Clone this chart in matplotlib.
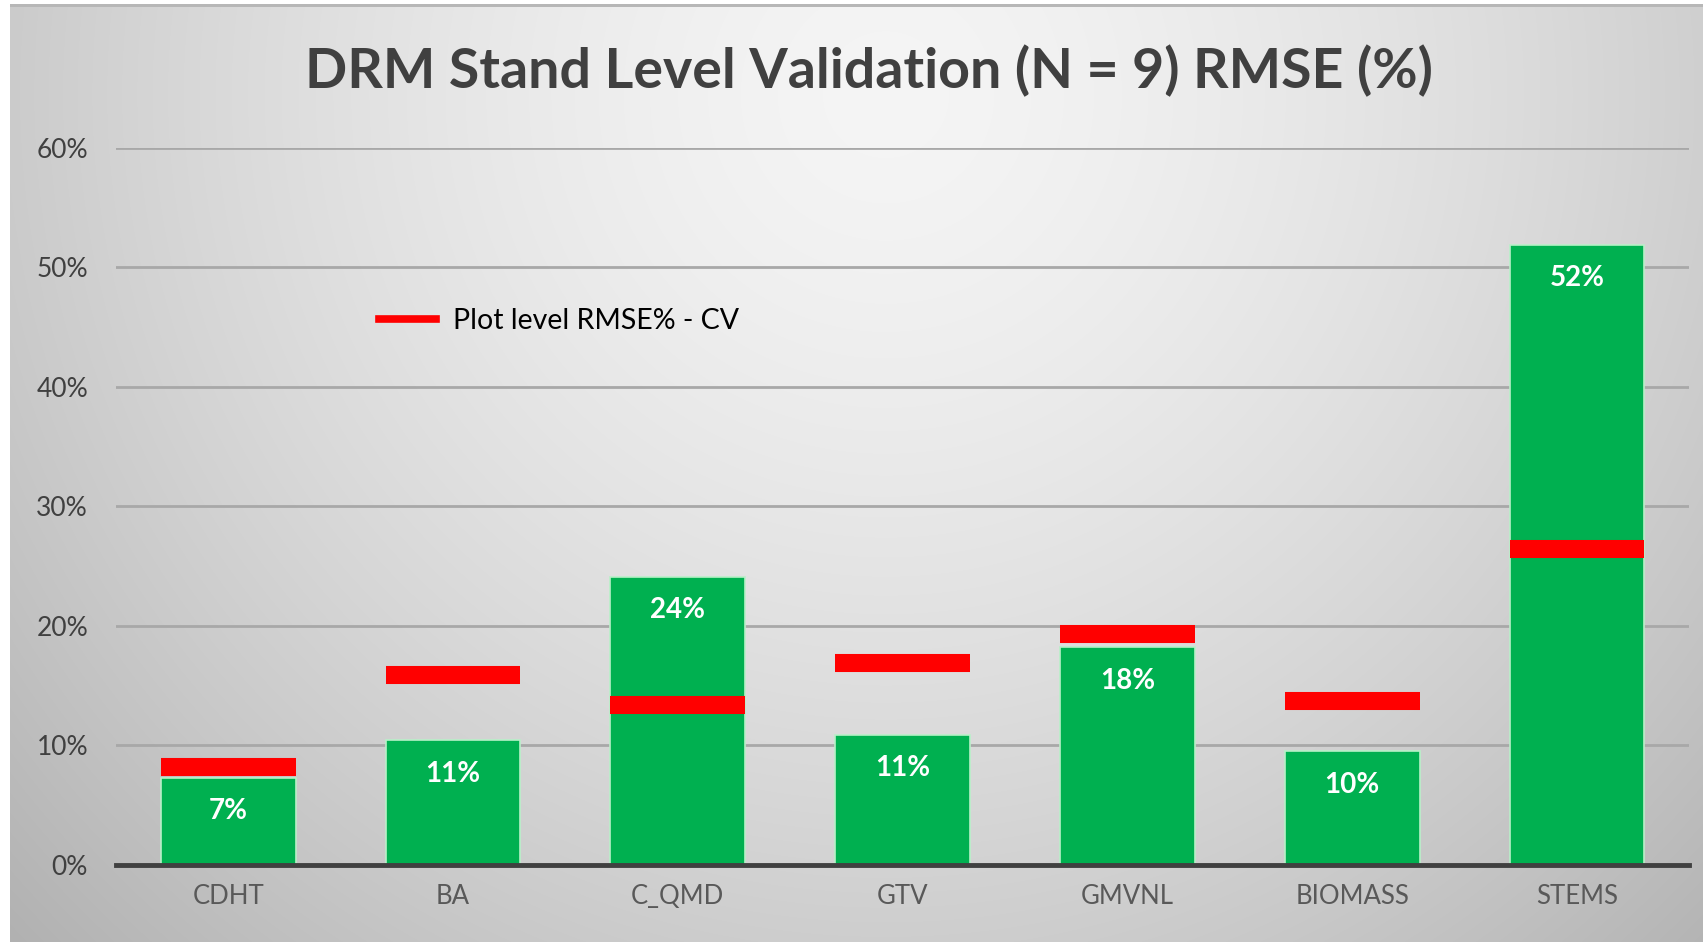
import numpy as np
import matplotlib
matplotlib.use("Agg")
import matplotlib.pyplot as plt
from matplotlib.lines import Line2D
from matplotlib.ticker import FuncFormatter

categories = ["CDHT", "BA", "C_QMD", "GTV", "GMVNL", "BIOMASS", "STEMS"]
stand_rmse = [7.3, 10.4, 24.1, 10.9, 18.2, 9.5, 51.9]
bar_labels = ["7%", "11%", "24%", "11%", "18%", "10%", "52%"]
plot_rmse_cv = [8.2, 15.9, 13.4, 16.9, 19.3, 13.7, 26.4]
yticks = [0, 10, 20, 30, 40, 50, 60]

FONT = ["Lato", "DejaVu Sans"]
plt.rcParams["font.family"] = FONT

W, H = 1703, 942
fig = plt.figure(figsize=(W / 100, H / 100), dpi=100)

# background gradient
bg = fig.add_axes([0, 0, 1, 1], zorder=-10)
yy, xx = np.mgrid[0:H, 0:W]
dx = (xx - 0.52 * W) / (0.55 * W)
dy = (yy - 0.10 * H) / (1.0 * H)
d = np.sqrt(dx ** 2 + dy ** 2)
val = 0.96 - 0.18 * np.clip(d, 0, 1.4) ** 1.5
img = np.dstack([val, val, val])
img[:, :10, :] = 1.0
img[:4, :, :] = 1.0
img[4:7, 10:, :] = 0.72
bg.imshow(img, aspect="auto", extent=[0, 1, 0, 1], origin="upper")
bg.axis("off")

ax = fig.add_axes([0.068, 0.082, 0.924, 0.761])
ax.set_facecolor("none")
x = np.arange(len(categories))
ax.bar(x, stand_rmse, width=0.6, color="#00b050", edgecolor="#b8f0c8",
       linewidth=1.2, zorder=3)
ax.hlines(plot_rmse_cv, x - 0.3, x + 0.3, colors="#ff0000", linewidth=13,
          zorder=4)
for xi, v, lab in zip(x, stand_rmse, bar_labels):
    ax.annotate(lab, (xi, v), xytext=(0, -24), textcoords="offset points",
                ha="center", va="center", color="white", fontsize=20,
                fontweight="bold", zorder=5)

ax.set_xlim(-0.5, len(categories) - 0.5)
ax.set_ylim(0, 60)
ax.set_yticks(yticks)
ax.yaxis.set_major_formatter(FuncFormatter(lambda v, p: f"{v:.0f}%"))
ax.set_xticks(x)
ax.set_xticklabels(categories)
ax.tick_params(axis="both", length=0)
ax.tick_params(axis="y", colors="#404040", pad=20, labelsize=19)
ax.tick_params(axis="x", colors="#595959", pad=14, labelsize=18.5)
ax.grid(axis="y", color="#a8a8a8", linewidth=2, zorder=0)
ax.set_axisbelow(True)
for s in ["top", "right", "left"]:
    ax.spines[s].set_visible(False)
ax.spines["bottom"].set_color("#404040")
ax.spines["bottom"].set_linewidth(3.5)
ax.spines["bottom"].set_zorder(6)

handle = Line2D([], [], color="#ff0000", linewidth=5.5)
ax.legend([handle], ["Plot level RMSE% - CV"], loc="center left",
          bbox_to_anchor=(0.151, 0.758), frameon=False, fontsize=20.5,
          handlelength=2.0, handletextpad=0.6)

fig.text(0.51, 0.925, "DRM Stand Level Validation (N = 9) RMSE (%)",
         ha="center", va="center", fontsize=40, fontweight="bold",
         color="#404040")

fig.savefig("out.png", dpi=100)
